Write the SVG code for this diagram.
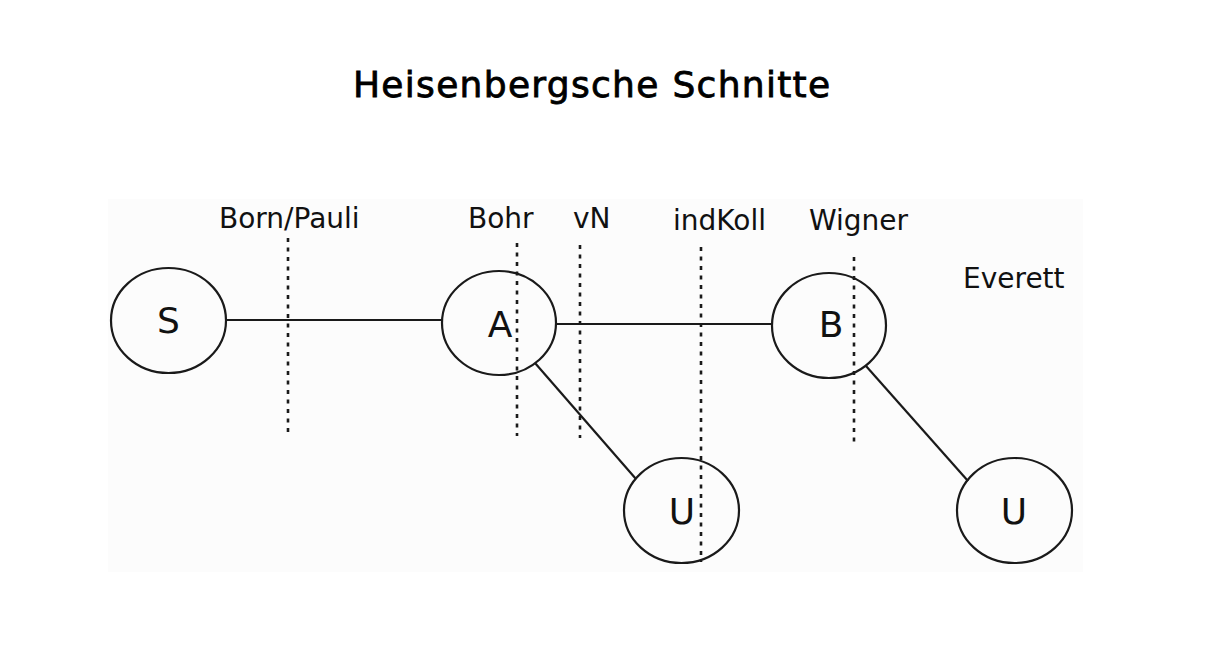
<svg xmlns="http://www.w3.org/2000/svg" width="1212" height="665" viewBox="0 0 1212 665">
<style>
.node{fill:none;stroke:#1a1a1a;stroke-width:2.2}
.edge{stroke:#1a1a1a;stroke-width:2.2;fill:none}
.cut{stroke:#1a1a1a;stroke-width:2.6;stroke-dasharray:4 5.5;fill:none}
.lbl{font-family:"DejaVu Sans",sans-serif;font-size:28px;fill:#111}
.nl{font-family:"DejaVu Sans",sans-serif;font-size:36px;fill:#111;text-anchor:middle}
.title{font-family:"DejaVu Sans",sans-serif;font-size:36px;fill:#000;stroke:#000;stroke-width:0.8;letter-spacing:1.3px}
</style>
<rect width="1212" height="665" fill="#ffffff"/>
<rect x="108" y="199" width="975" height="373" fill="#fcfcfc"/>
<text class="title" x="353" y="97">Heisenbergsche Schnitte</text>
<g id="connectors">
<line class="edge" x1="226" y1="320" x2="442" y2="320"/>
<line class="edge" x1="556" y1="324" x2="772" y2="324"/>
<line class="edge" x1="535" y1="363" x2="636" y2="479"/>
<line class="edge" x1="866" y1="366" x2="968" y2="481"/>
</g>
<g id="node-S"><ellipse class="node" cx="168.5" cy="320.5" rx="57.5" ry="52.5"/><text class="nl" x="168.5" y="333">S</text></g>
<g id="node-A"><ellipse class="node" cx="499" cy="323" rx="57" ry="52"/><text class="nl" x="500" y="337">A</text></g>
<g id="node-B"><ellipse class="node" cx="829" cy="325.5" rx="57" ry="52.5"/><text class="nl" x="831" y="337">B</text></g>
<g id="node-U1"><ellipse class="node" cx="681.5" cy="510.5" rx="57.5" ry="52.5"/><text class="nl" x="682" y="524">U</text></g>
<g id="node-U2"><ellipse class="node" cx="1014.5" cy="510.5" rx="57.5" ry="52.5"/><text class="nl" x="1014" y="524">U</text></g>
<g id="cuts">
<line class="cut" x1="288" y1="238" x2="288" y2="432"/>
<line class="cut" x1="517" y1="243" x2="517" y2="436"/>
<line class="cut" x1="580" y1="245" x2="580" y2="438"/>
<line class="cut" x1="701" y1="247" x2="701" y2="562"/>
<line class="cut" x1="854" y1="257" x2="854" y2="446"/>
</g>
<g id="labels">
<text class="lbl" x="219" y="228">Born/Pauli</text>
<text class="lbl" x="468" y="228">Bohr</text>
<text class="lbl" x="573" y="228">vN</text>
<text class="lbl" x="673" y="230">indKoll</text>
<text class="lbl" x="809" y="230">Wigner</text>
<text class="lbl" x="963" y="288">Everett</text>
</g>
</svg>
